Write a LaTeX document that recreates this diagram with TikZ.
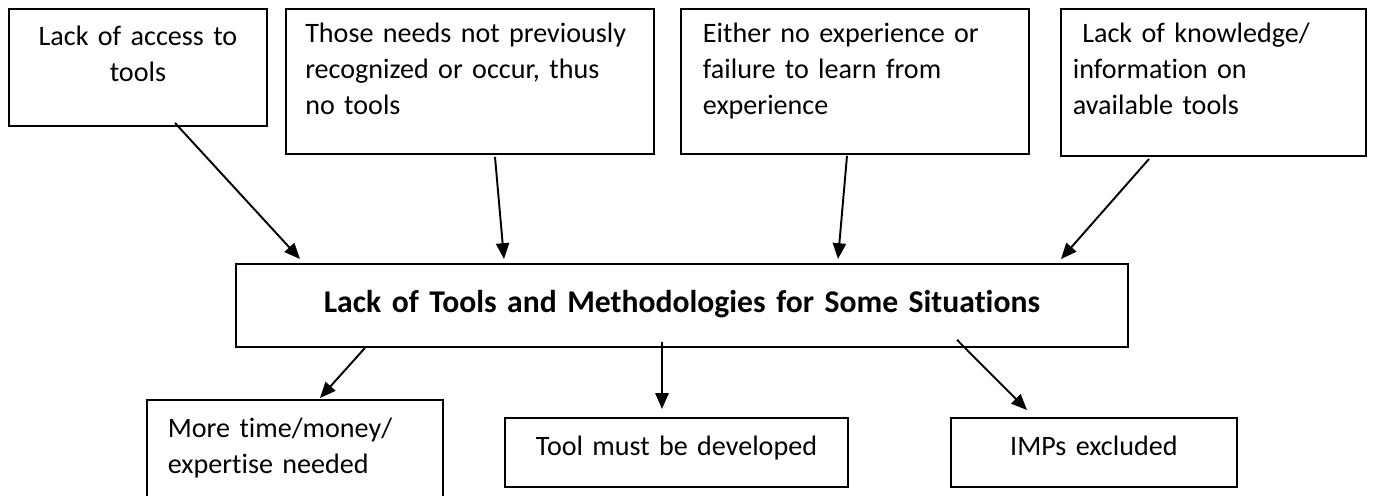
\documentclass[tikz,border=0pt]{standalone}
\usepackage{fontspec}
\setmainfont{Carlito}[Ligatures=CommonOff]
\usetikzlibrary{arrows.meta}
\tikzset{
    raw box/.style={rectangle, draw, line width=1.1pt, anchor=north west, inner ysep=0pt,
        font=\fontsize{16}{20.5}\selectfont},
    cause box/.style={raw box, inner xsep=11pt, align=left, text height=18.8pt, text depth=63.7pt},
    effect box/.style={raw box, inner xsep=0pt, align=center, text height=21.6pt, text depth=17.6pt},
    main box/.style={raw box, inner xsep=0pt, align=center, text height=27.9pt, text depth=19.3pt,
        font=\fontsize{18}{20.5}\selectfont\bfseries}
}

\begin{document}
\begin{tikzpicture}[x=0.02cm, y=-0.02cm, >={Triangle[length=9pt,width=7.5pt]}, line width=1.1pt]
    \useasboundingbox (0,0) rectangle (1377,495);
    % causes
    \node[raw box, inner xsep=0pt, align=center, text width=146.8pt, text height=21pt, text depth=45.6pt]
        (access) at (8,8) {Lack of access to\\tools};
    \node[cause box, text width=187.4pt] (needs) at (285,8)
        {Those needs not previously\\recognized or occur, thus\\no tools};
    \node[cause box, inner xsep=12.5pt, text width=173pt] (exper) at (680,8)
        {Either no experience or\\failure to learn from\\experience};
    \node[cause box, inner xsep=6.8pt, text width=160pt, text depth=64.9pt] (knowl) at (1060,8)
        {\ Lack of knowledge/\\information on\\available tools};
    % central problem
    \node[main box, text width=507.6pt] (lack) at (235,263)
        {Lack of Tools and Methodologies for Some Situations};
    % effects
    \node[raw box, inner xsep=11.9pt, align=left, text width=144.6pt, text height=21.6pt, text depth=40pt]
        (money) at (146,399) {More time/money/\\expertise needed};
    \node[effect box, text width=195.2pt] (develop) at (504,417) {Tool must be developed};
    \node[effect box, text width=162.7pt] (imps) at (950,417) {IMPs excluded};

    \draw[->] ([shift={(167,-4)}]access.south west) -- ([shift={(65,-4)}]lack.north west);
    \draw[->] ([shift={(210,2)}]needs.south west) -- ([shift={(269,-4)}]lack.north west);
    \draw[->] ([shift={(167,1)}]exper.south west) -- ([shift={(603,-4)}]lack.north west);
    \draw[->] ([shift={(89,2)}]knowl.south west) -- ([shift={(826,-4)}]lack.north west);
    \draw[->] ([shift={(130,0)}]lack.south west) -- ([shift={(174,-1)}]money.north west);
    \draw[->] ([shift={(427,-6)}]lack.south west) -- ([shift={(158,-8)}]develop.north west);
    \draw[->] ([shift={(722,-8)}]lack.south west) -- ([shift={(77,-7)}]imps.north west);
\end{tikzpicture}
\end{document}
